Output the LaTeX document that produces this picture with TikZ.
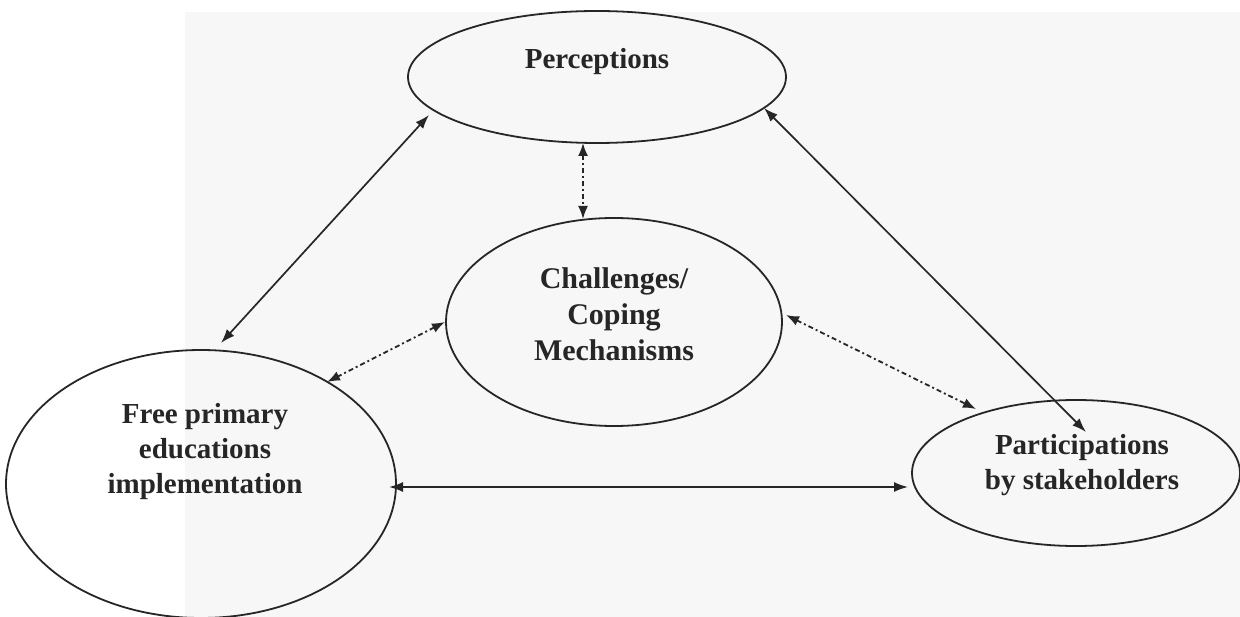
\documentclass[tikz,border=0pt]{standalone}
\usepackage{fontspec}
\setmainfont{Liberation Serif}
\usetikzlibrary{shapes.geometric,arrows.meta}
\begin{document}
\begin{tikzpicture}[x=1pt,y=-1pt,
  oval/.style={draw=black!85, ellipse, line width=1.8pt, inner sep=0pt},
  lbl/.style={align=center, inner sep=0pt, text=black!85, font=\fontsize{29}{35}\selectfont\bfseries},
  solidlink/.style={draw=black!85, line width=1.7pt, {Latex[length=14pt,width=10pt]}-{Latex[length=14pt,width=10pt]}},
  dotlink/.style={draw=black!85, line width=1.8pt, dash pattern=on 5pt off 3pt on 2pt off 3pt, {Latex[length=13pt,width=10pt]}-{Latex[length=13pt,width=10pt]}}
]
\useasboundingbox (0,0) rectangle (1240,617);
\fill[gray!6] (185,12) rectangle (1240,617);
% ellipses
\node[oval, minimum width=378pt, minimum height=132pt] (perc) at (597,77) {};
\node[oval, minimum width=336pt, minimum height=208pt] (chal) at (614,322) {};
\node[oval, minimum width=390pt, minimum height=268pt] (fpe) at (201,484) {};
\node[oval, minimum width=328pt, minimum height=146pt] (part) at (1076,473) {};
% labels
\node[lbl] (percT) at (597,62) {Perceptions};
\node[lbl, font=\fontsize{30}{36}\selectfont\bfseries] (chalT) at (614,314) {Challenges/\\Coping\\Mechanisms};
\node[lbl] (fpeT) at (205,452) {Free primary\\educations\\implementation};
\node[lbl] (partT) at (1082,465) {Participations\\by stakeholders};
% connector end points
\coordinate (p1) at (429,115);
\coordinate (f1) at (221,343);
\coordinate (p2) at (764,108);
\coordinate (s2) at (1086,432);
\coordinate (p3) at (583,143);
\coordinate (c3) at (583,219);
\coordinate (c4) at (445,322);
\coordinate (f4) at (327,382);
\coordinate (c5) at (786,315);
\coordinate (s5) at (976,409);
\coordinate (f6) at (389,487);
\coordinate (s6) at (908,487);
% connectors
\draw[solidlink] (p1) -- (f1);
\draw[solidlink] (p2) -- (s2);
\draw[dotlink] (p3) -- (c3);
\draw[dotlink] (c4) -- (f4);
\draw[dotlink] (c5) -- (s5);
\draw[solidlink] (f6) -- (s6);
\end{tikzpicture}
\end{document}
